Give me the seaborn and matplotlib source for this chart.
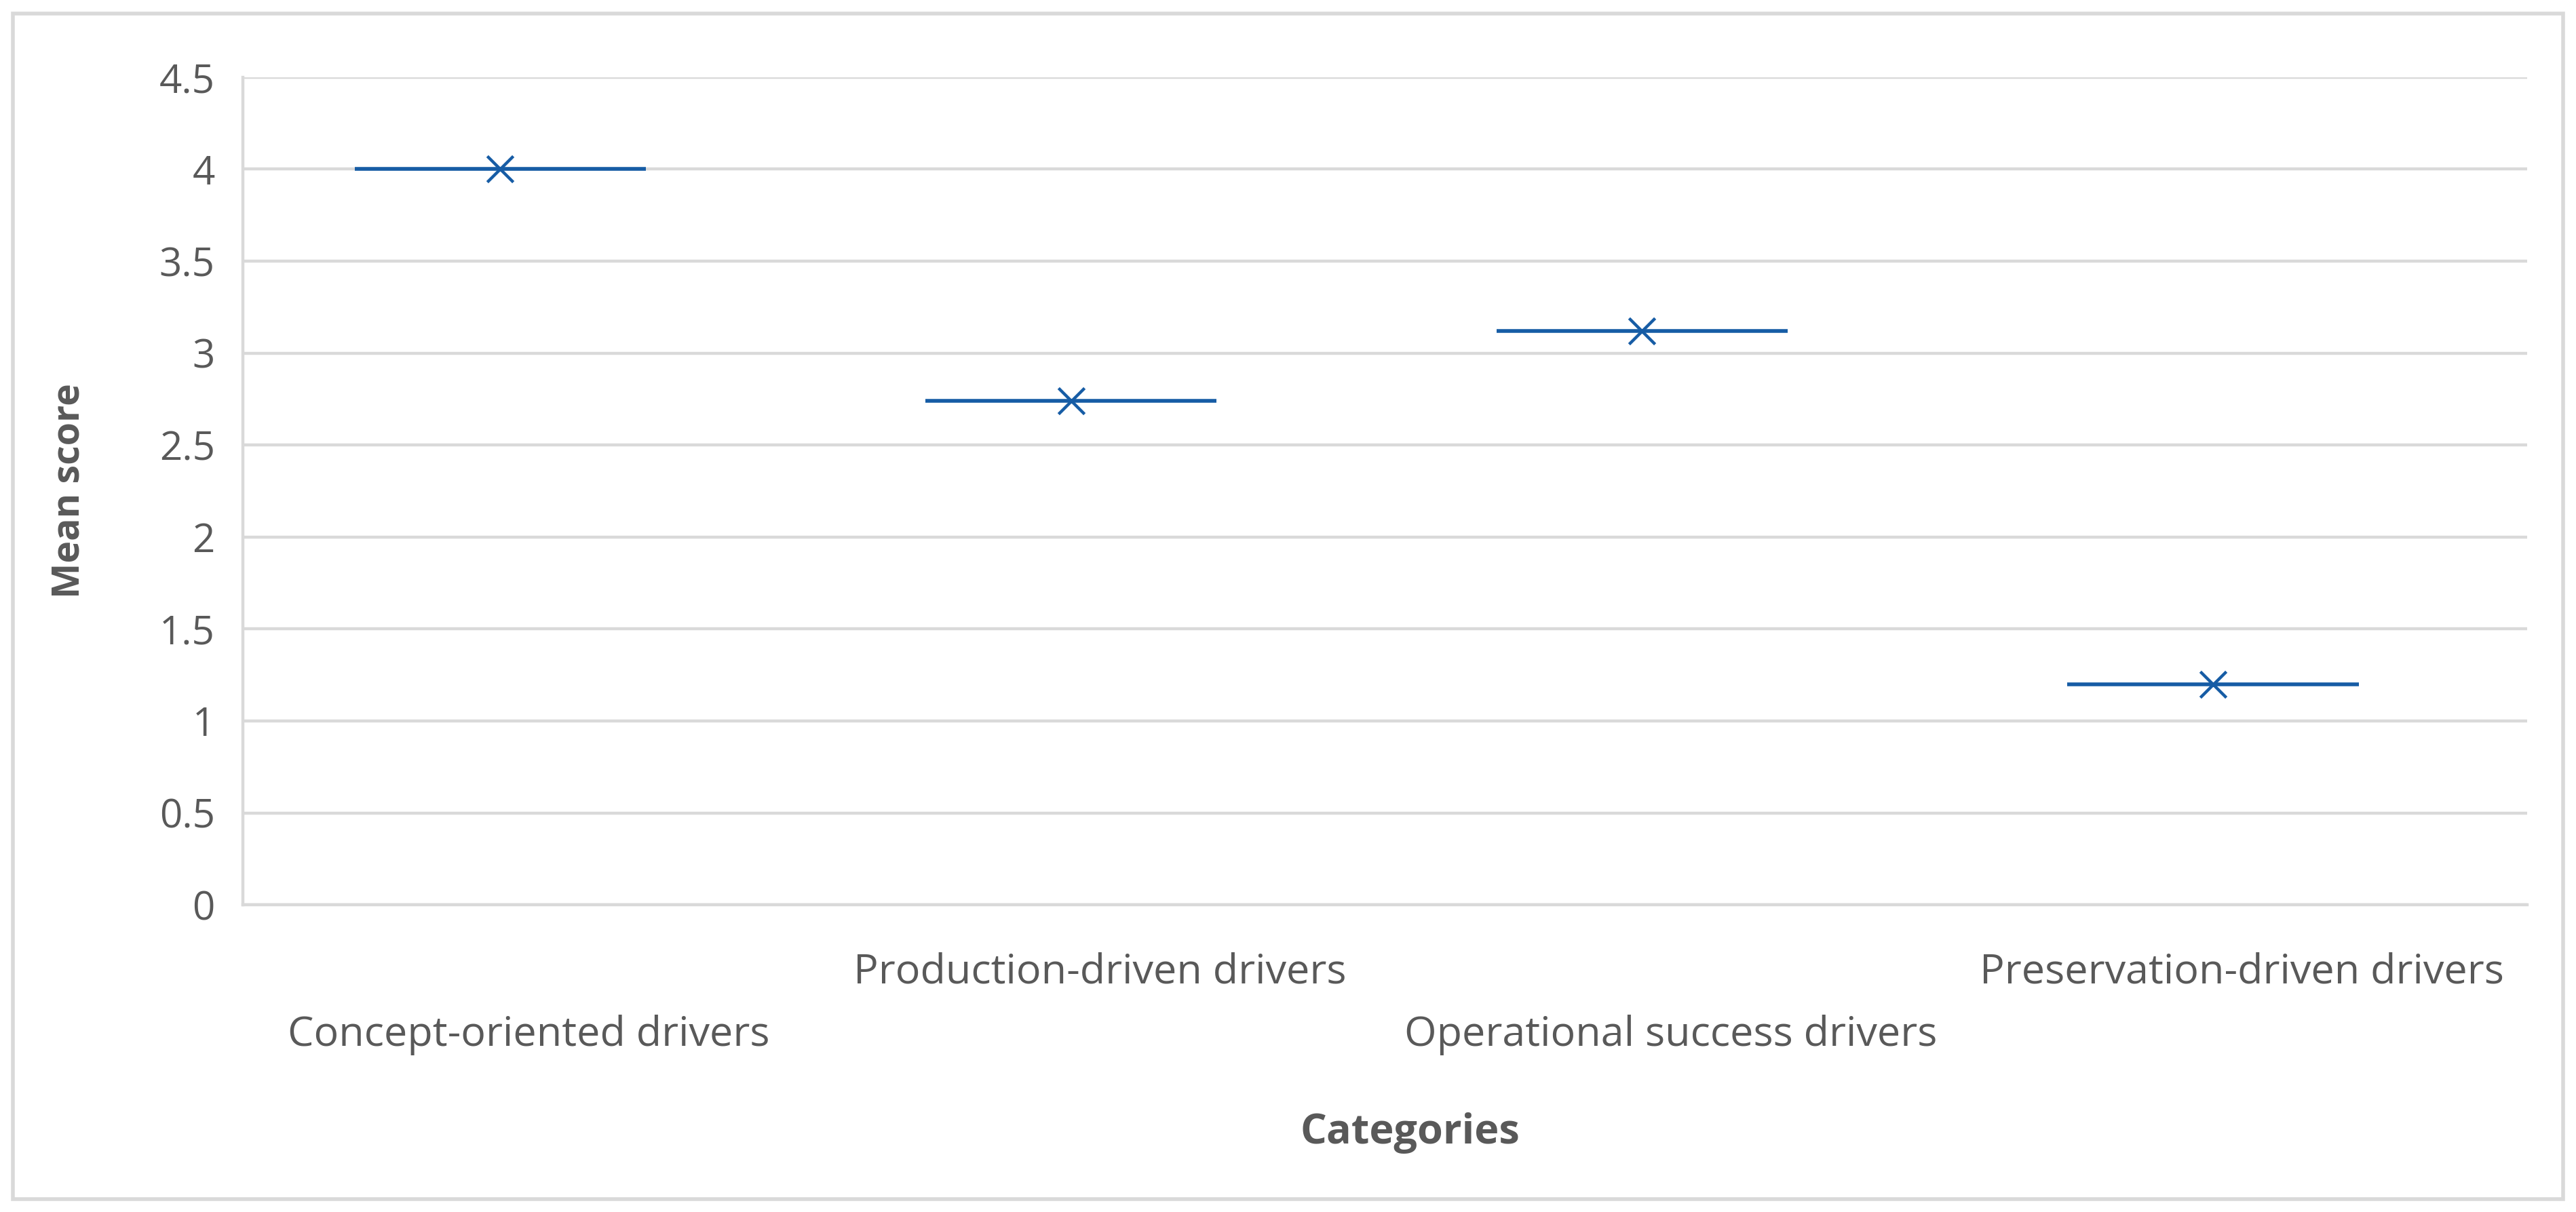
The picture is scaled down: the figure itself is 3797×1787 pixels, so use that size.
import numpy as np
import pandas as pd
import matplotlib
matplotlib.use('Agg')
import matplotlib.pyplot as plt
from matplotlib.patches import Rectangle
import seaborn as sns

# chart data
categories = ['Concept-oriented drivers', 'Production-driven drivers',
              'Operational success drivers', 'Preservation-driven drivers']
mean_scores = [4.0, 2.74, 3.12, 1.2]
y_ticks = [0, 0.5, 1, 1.5, 2, 2.5, 3, 3.5, 4, 4.5]

sns.set_theme(style="whitegrid")
plt.rcParams['font.family'] = ['Open Sans', 'DejaVu Sans']

GREY_TEXT = '#595959'
GRID = '#D9D9D9'
BLUE = '#165CA5'

df = pd.DataFrame({'category': categories, 'mean': mean_scores})
# Excel draws the markers a bit left of the category centre
df['pos'] = np.arange(len(df)) - 0.05

fig = plt.figure(figsize=(18.985, 8.935), dpi=200)
ax = fig.add_axes([0.0944, 0.2534, 0.8866, 0.6829])

# horizontal bars around each mean
ax.hlines(df['mean'], df['pos'] - 0.255, df['pos'] + 0.255, color=BLUE, lw=2.0, zorder=3)
sns.scatterplot(data=df, x='pos', y='mean', marker='x', s=190, color=BLUE,
                linewidth=1.6, ax=ax, zorder=4, legend=False)

ax.set_xlim(-0.5, len(categories) - 0.5)
ax.set_ylim(0, 4.5)
ax.set_yticks(y_ticks)
ax.set_yticklabels([f'{t:g}' for t in y_ticks])
ax.set_xticks([])

ax.grid(axis='y', color=GRID, lw=1.6)
ax.grid(axis='x', visible=False)
for side in ['top', 'right']:
    ax.spines[side].set_visible(False)
for side in ['left', 'bottom']:
    ax.spines[side].set_color(GRID)
    ax.spines[side].set_linewidth(1.6)

ax.tick_params(axis='y', length=0, pad=15, labelsize=21, labelcolor=GREY_TEXT)

# staggered category labels like Excel
for i, cat in enumerate(categories):
    y = -0.157 if i % 2 == 0 else -0.081
    ax.text(i, y, cat, transform=ax.get_xaxis_transform(), ha='center', va='center',
            fontsize=22, color=GREY_TEXT)

ax.set_xlabel('Categories', fontsize=22, fontweight='bold', color=GREY_TEXT)
ax.xaxis.set_label_coords(0.511, -0.276)
ax.xaxis.label.set_va('center')
ax.set_ylabel('Mean score', fontsize=20, fontweight='bold', color=GREY_TEXT)
ax.yaxis.set_label_coords(-0.0763, 0.5)
ax.yaxis.label.set_va('center')

# chart area border
fig.patches.append(Rectangle((0.0051, 0.0108), 0.9898, 0.9782, transform=fig.transFigure,
                             fill=False, ec=GRID, lw=2.0))

fig.savefig('out.png', dpi=200, facecolor='white')
